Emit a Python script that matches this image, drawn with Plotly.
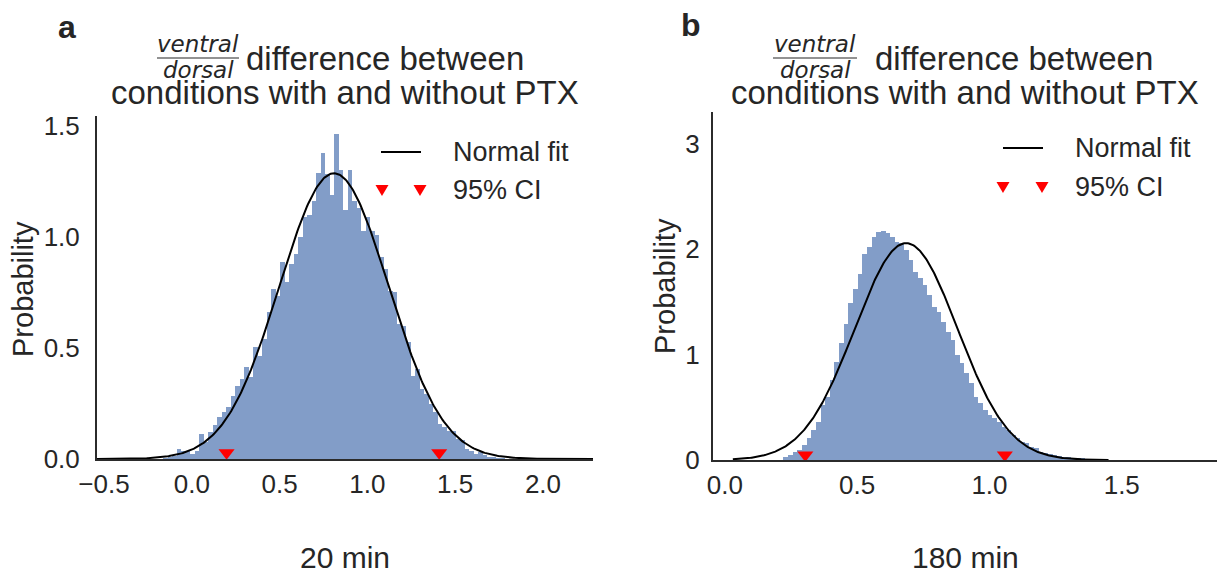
import numpy as np
import plotly.graph_objects as go

W, H = 1219, 574

# ---------------- data ----------------
# Panel a (20 min): histogram of bootstrap differences (density)
a_bin_start = -0.187
a_bin_width = 0.0256
a_heights = [0.002, 0.004, 0.007, 0.012,
             0.046, 0.035, 0.034, 0.023, 0.038, 0.113, 0.076, 0.121, 0.151, 0.188,
             0.211, 0.233, 0.286, 0.331, 0.361, 0.414, 0.369, 0.504, 0.466, 0.541,
             0.661, 0.766, 0.736, 0.886, 0.796, 0.879, 0.924, 1.002, 1.090, 1.097,
             1.164, 1.288, 1.378, 1.285, 1.187, 1.465, 1.300, 1.120, 1.300, 1.164,
             1.131, 1.029, 1.089, 1.029, 1.007, 0.909, 0.857, 0.759, 0.752, 0.609,
             0.601, 0.526, 0.376, 0.406, 0.316, 0.294, 0.248, 0.211, 0.159, 0.143,
             0.128, 0.128, 0.091, 0.086, 0.046, 0.038, 0.023, 0.031, 0.016, 0.011,
             0.008, 0.005, 0.003, 0.002]
a_fit_mu, a_fit_sigma = 0.81, 0.31
a_ci = [0.198, 1.409]

# Panel b (180 min)
b_bin_start = 0.221
b_bin_width = 0.01755
b_heights = [0.025, 0.047, 0.079, 0.095, 0.142, 0.205, 0.284, 0.363, 0.521, 0.600,
             0.758, 0.932, 1.106, 1.289, 1.485, 1.618, 1.763, 1.949, 2.022, 2.117,
             2.164, 2.171, 2.155, 2.117, 2.070, 2.060, 1.991, 1.896, 1.785, 1.722,
             1.659, 1.564, 1.453, 1.406, 1.311, 1.216, 1.137, 0.995, 0.916, 0.821,
             0.727, 0.600, 0.537, 0.474, 0.427, 0.395, 0.363, 0.316, 0.284, 0.237,
             0.205, 0.174, 0.158, 0.126, 0.111, 0.079, 0.070, 0.057, 0.047, 0.038,
             0.032, 0.025, 0.022, 0.019, 0.016, 0.013]
b_fit_mu, b_fit_sigma = 0.685, 0.194
b_ci = [0.304, 1.058]

a_xticks = [-0.5, 0.0, 0.5, 1.0, 1.5, 2.0]
a_xticktext = ["\u22120.5", "0.0", "0.5", "1.0", "1.5", "2.0"]
a_yticks = [0.0, 0.5, 1.0, 1.5]
a_yticktext = ["0.0", "0.5", "1.0", "1.5"]
b_xticks = [0.0, 0.5, 1.0, 1.5]
b_xticktext = ["0.0", "0.5", "1.0", "1.5"]
b_yticks = [0, 1, 2, 3]
b_yticktext = ["0", "1", "2", "3"]

panel_letters = ["a", "b"]
time_labels = ["20 min", "180 min"]
title_frac_num = "ventral"
title_frac_den = "dorsal"
title_line1 = "difference between"
title_line2 = "conditions with and without PTX"
legend_labels = ["Normal fit", "95% CI"]

# ---------------- style ----------------
FONT = "Liberation Sans, Arial, Helvetica, sans-serif"
TXT = "#262626"
BAR = "rgb(130,157,200)"
AX = "#2b2b2b"


def px(x):
    return x / W


def py(y):
    return 1 - y / H


def normpdf(x, mu, s):
    return np.exp(-0.5 * ((x - mu) / s) ** 2) / (s * np.sqrt(2 * np.pi))


fig = go.Figure()

panels = [
    dict(start=a_bin_start, width=a_bin_width, h=a_heights, mu=a_fit_mu, s=a_fit_sigma,
         ci=a_ci, ci_y=0.028, xr=[-0.54, 2.285], yr=[0, 1.545], xa="x", ya="y",
         fitx=[-0.54, 2.285]),
    dict(start=b_bin_start, width=b_bin_width, h=b_heights, mu=b_fit_mu, s=b_fit_sigma,
         ci=b_ci, ci_y=0.048, xr=[-0.045, 1.86], yr=[0, 3.3], xa="x2", ya="y2",
         fitx=[0.03, 1.45]),
]

for p in panels:
    h = np.array(p["h"])
    centers = p["start"] + (np.arange(len(h)) + 0.5) * p["width"]
    fig.add_trace(go.Bar(x=centers, y=h, width=p["width"], marker=dict(color=BAR, line=dict(width=0)),
                         xaxis=p["xa"], yaxis=p["ya"], showlegend=False, hoverinfo="skip"))
    xs = np.linspace(p["fitx"][0], p["fitx"][1], 400)
    fig.add_trace(go.Scatter(x=xs, y=normpdf(xs, p["mu"], p["s"]), mode="lines",
                             line=dict(color="black", width=2), xaxis=p["xa"], yaxis=p["ya"],
                             showlegend=False, hoverinfo="skip"))
    fig.add_trace(go.Scatter(x=p["ci"], y=[p["ci_y"]] * len(p["ci"]), mode="markers",
                             marker=dict(symbol="triangle-down", color="red", size=14, line=dict(width=0)),
                             xaxis=p["xa"], yaxis=p["ya"], showlegend=False, hoverinfo="skip",
                             cliponaxis=False))

axis_common = dict(showgrid=False, zeroline=False, showline=True, linecolor=AX, linewidth=2,
                   ticks="", tickfont=dict(family=FONT, size=26, color=TXT), fixedrange=True,
                   automargin=False)

fig.update_layout(
    width=W, height=H, margin=dict(l=0, r=0, t=0, b=0, pad=0, autoexpand=False),
    paper_bgcolor="white", plot_bgcolor="white", bargap=0, barmode="overlay",
    xaxis=dict(domain=[px(97), px(593)], range=panels[0]["xr"], anchor="y",
               tickvals=a_xticks, ticktext=a_xticktext, ticklabelstandoff=1, **axis_common),
    yaxis=dict(domain=[py(459), py(116)], range=panels[0]["yr"], anchor="x",
               tickvals=a_yticks, ticktext=a_yticktext, ticklabelstandoff=10, **axis_common),
    xaxis2=dict(domain=[px(713), px(1217)], range=panels[1]["xr"], anchor="y2",
                tickvals=b_xticks, ticktext=b_xticktext, ticklabelstandoff=1, **axis_common),
    yaxis2=dict(domain=[py(460), py(112)], range=panels[1]["yr"], anchor="x2",
                tickvals=b_yticks, ticktext=b_yticktext, ticklabelstandoff=6, **axis_common),
    showlegend=False,
)

annotations = []
shapes = []


def text(x, y, s, size, xanchor="center", yanchor="middle", italic=False, bold=False,
         family=FONT, angle=0):
    st = s
    if bold:
        st = "<b>" + st + "</b>"
    if italic:
        st = "<i>" + st + "</i>"
    annotations.append(dict(x=px(x), y=py(y), xref="paper", yref="paper", text=st, showarrow=False,
                            xanchor=xanchor, yanchor=yanchor, textangle=angle,
                            font=dict(family=family, size=size, color=TXT)))


# per panel text layout (pixel positions)
layouts = [
    dict(letter=(67, 27), frac_c=198, frac_l=157, frac_r=239, t1_left=244, center=345,
         ylab=(23, 289), leg_line=(381, 421, 152), leg_tri=(382, 420, 190), leg_text=451),
    dict(letter=(691, 25), frac_c=815, frac_l=773, frac_r=857, t1_left=873, center=965,
         ylab=(665, 286), leg_line=(1003, 1043, 148), leg_tri=(1003, 1042, 187), leg_text=1073),
]

for i, L in enumerate(layouts):
    text(L["letter"][0], L["letter"][1], panel_letters[i], 32, bold=True)
    text(L["frac_c"], 44, title_frac_num, 23, italic=True, family="DejaVu Sans, sans-serif")
    text(L["frac_c"], 70, title_frac_den, 23, italic=True, family="DejaVu Sans, sans-serif")
    shapes.append(dict(type="line", xref="paper", yref="paper", x0=px(L["frac_l"]), x1=px(L["frac_r"]),
                       y0=py(58), y1=py(58), line=dict(color=TXT, width=1.2)))
    text(L["t1_left"], 58, title_line1, 33, xanchor="left")
    text(L["center"], 92, title_line2, 33)
    text(L["center"], 557, time_labels[i], 30)
    text(L["ylab"][0], L["ylab"][1], "Probability", 29, angle=-90)
    # legend
    x0, x1, yl = L["leg_line"]
    shapes.append(dict(type="line", xref="paper", yref="paper", x0=px(x0), x1=px(x1),
                       y0=py(yl), y1=py(yl), line=dict(color="black", width=2)))
    text(L["leg_text"], yl, legend_labels[0], 27, xanchor="left")
    ta, tb, yt = L["leg_tri"]
    for tx in (ta, tb):
        path = "M {:.5f},{:.5f} L {:.5f},{:.5f} L {:.5f},{:.5f} Z".format(
            px(tx - 6.5), py(yt - 5), px(tx + 6.5), py(yt - 5), px(tx), py(yt + 6))
        shapes.append(dict(type="path", xref="paper", yref="paper", path=path,
                           fillcolor="red", line=dict(width=0)))
    text(L["leg_text"], yt, legend_labels[1], 27, xanchor="left")

fig.update_layout(annotations=annotations, shapes=shapes)
fig.write_html("out.html", config={"displayModeBar": False, "staticPlot": True},
               post_script="document.body.style.margin='0';document.body.style.overflow='hidden';")
